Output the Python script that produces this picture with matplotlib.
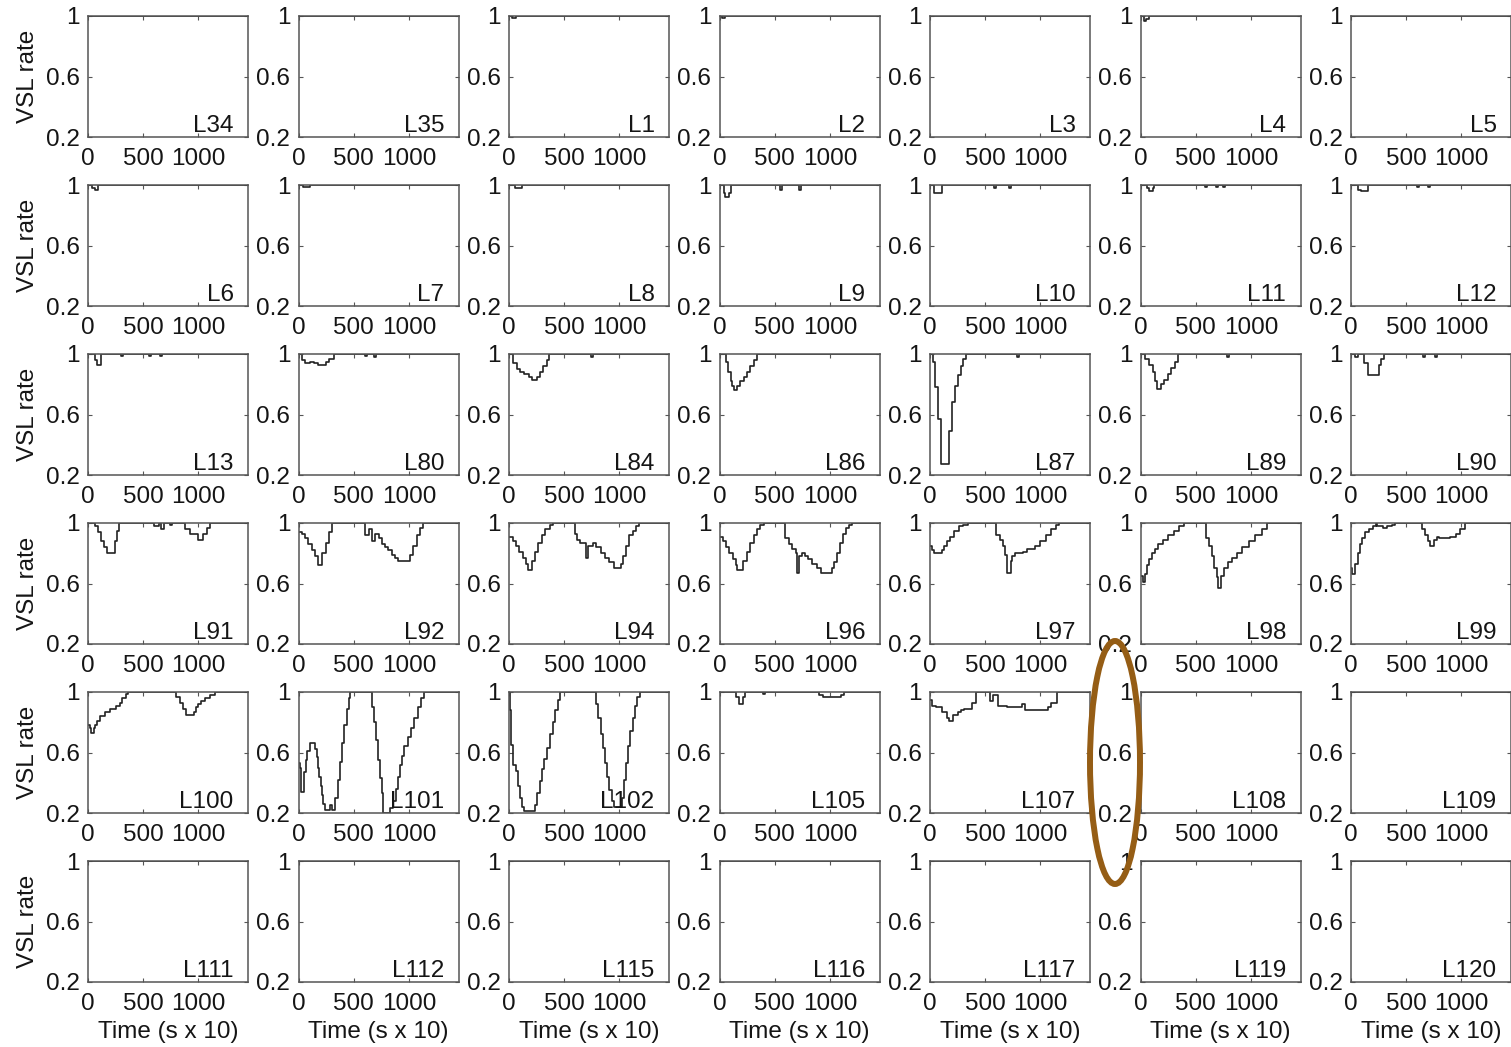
import matplotlib
matplotlib.use("Agg")
import matplotlib.pyplot as plt
from matplotlib.patches import Ellipse

plt.rcParams['font.family'] = ['Liberation Sans', 'DejaVu Sans']

# panel labels, row by row
row1 = ["L34", "L35", "L1", "L2", "L3", "L4", "L5"]
row2 = ["L6", "L7", "L8", "L9", "L10", "L11", "L12"]
row3 = ["L13", "L80", "L84", "L86", "L87", "L89", "L90"]
row4 = ["L91", "L92", "L94", "L96", "L97", "L98", "L99"]
row5 = ["L100", "L101", "L102", "L105", "L107", "L108", "L109"]
row6 = ["L111", "L112", "L115", "L116", "L117", "L119", "L120"]

T_END = 1440
flat_t = [0, T_END]
flat_v = [1, 1]

# VSL rate step profiles (time in s x 10, value holds until next time)
L1_t = [0, 30, 60, T_END]
L1_v = [1, 0.99, 1, 1]
L2_t = [0, 20, 50, T_END]
L2_v = [1, 0.99, 1, 1]
L4_t = [0, 30, 50, 80, T_END]
L4_v = [1, 0.97, 0.98, 1, 1]

L6_t = [0, 40, 60, 90, T_END]
L6_v = [1, 0.98, 0.97, 1, 1]
L7_t = [0, 40, 100, T_END]
L7_v = [1, 0.99, 1, 1]
L8_t = [0, 50, 120, T_END]
L8_v = [1, 0.98, 1, 1]
L9_t = [0, 40, 50, 90, 100, 550, 565, 720, 735, T_END]
L9_v = [1, 0.95, 0.92, 0.95, 1, 0.97, 1, 0.97, 1, 1]
L10_t = [0, 40, 110, 580, 595, 715, 730, T_END]
L10_v = [1, 0.945, 1, 0.98, 1, 0.98, 1, 1]
L11_t = [0, 60, 80, 110, 125, 580, 600, 680, 700, 750, 765, T_END]
L11_v = [1, 0.98, 0.96, 0.98, 1, 0.99, 1, 0.99, 1, 0.99, 1, 1]
L12_t = [0, 60, 90, 150, 600, 620, 700, 715, T_END]
L12_v = [1, 0.97, 0.96, 1, 0.99, 1, 0.99, 1, 1]

L13_t = [0, 60, 80, 120, 300, 320, 550, 570, 650, 670, T_END]
L13_v = [1, 0.96, 0.93, 1, 0.99, 1, 0.99, 1, 0.99, 1, 1]
L80_t = [0, 30, 60, 100, 140, 180, 250, 280, 320, 600, 620, 680, 700, T_END]
L80_v = [1, 0.96, 0.94, 0.95, 0.94, 0.93, 0.95, 0.97, 1, 0.99, 1, 0.98, 1, 1]
L84_t = [0, 40, 70, 100, 140, 180, 210, 250, 280, 310, 340, 360, 740, 760, T_END]
L84_v = [1, 0.94, 0.90, 0.88, 0.87, 0.85, 0.83, 0.85, 0.88, 0.92, 0.96, 1, 0.98, 1, 1]
L86_t = [0, 55, 80, 100, 115, 130, 160, 190, 220, 250, 280, 310, 340, T_END]
L86_v = [1, 0.95, 0.88, 0.82, 0.79, 0.76, 0.79, 0.82, 0.85, 0.88, 0.92, 0.96, 1, 1]
L87_t = [0, 25, 45, 75, 100, 175, 200, 230, 255, 280, 300, 325, 790, 810, T_END]
L87_v = [1, 0.95, 0.78, 0.57, 0.27, 0.49, 0.68, 0.79, 0.86, 0.92, 0.97, 1, 0.98, 1, 1]
L89_t = [0, 40, 80, 110, 130, 150, 185, 210, 245, 280, 310, 340, 780, 800, T_END]
L89_v = [1, 0.97, 0.93, 0.88, 0.82, 0.77, 0.80, 0.83, 0.87, 0.91, 0.95, 1, 0.98, 1, 1]
L90_t = [0, 40, 60, 120, 150, 255, 275, 300, 650, 670, 760, 780, T_END]
L90_v = [1, 0.98, 1, 0.94, 0.86, 0.93, 0.97, 1, 0.98, 1, 0.98, 1, 1]

L91_t = [0, 60, 90, 120, 145, 170, 245, 265, 285, 600, 640, 660, 690, 740, 760,
         880, 925, 1000, 1045, 1075, 1105, T_END]
L91_v = [1, 0.98, 0.94, 0.88, 0.84, 0.80, 0.88, 0.95, 1, 0.98, 1, 0.96, 1, 0.99, 1,
         0.96, 0.93, 0.89, 0.93, 0.97, 1, 1]
L92_t = [0, 30, 60, 90, 120, 150, 180, 215, 245, 275, 305, 605, 635, 665, 695, 725,
         755, 785, 815, 845, 875, 905, 1010, 1040, 1070, 1100, 1125, T_END]
L92_v = [0.94, 0.93, 0.90, 0.86, 0.82, 0.78, 0.72, 0.80, 0.87, 0.94, 1, 0.92, 0.96,
         0.88, 0.93, 0.90, 0.86, 0.84, 0.82, 0.79, 0.77, 0.75, 0.79, 0.85, 0.92, 0.97, 1, 1]
L94_t = [0, 35, 65, 95, 125, 155, 170, 205, 235, 265, 295, 330, 370, 400, 595, 620,
         640, 695, 717, 760, 790, 830, 870, 910, 950, 1015, 1035, 1060, 1090, 1120,
         1150, 1180, T_END]
L94_v = [0.91, 0.88, 0.85, 0.81, 0.77, 0.73, 0.69, 0.75, 0.81, 0.87, 0.92, 0.96, 0.99,
         1, 0.93, 0.89, 0.87, 0.77, 0.85, 0.87, 0.84, 0.80, 0.77, 0.74, 0.70, 0.73,
         0.78, 0.85, 0.92, 0.95, 0.98, 1, 1]
L96_t = [0, 30, 60, 90, 120, 150, 160, 215, 250, 280, 310, 340, 370, 400, 595, 630,
         660, 690, 700, 722, 745, 775, 800, 840, 880, 920, 1020, 1040, 1065, 1090,
         1120, 1150, 1175, 1200, T_END]
L96_v = [0.91, 0.88, 0.84, 0.80, 0.76, 0.72, 0.69, 0.75, 0.81, 0.87, 0.92, 0.96, 0.99,
         1, 0.90, 0.86, 0.83, 0.80, 0.67, 0.78, 0.80, 0.78, 0.76, 0.73, 0.70, 0.67,
         0.70, 0.74, 0.80, 0.87, 0.93, 0.97, 0.99, 1, 1]
L97_t = [0, 15, 40, 105, 125, 150, 185, 220, 260, 300, 345, 600, 630, 660, 680, 697,
         730, 740, 770, 845, 880, 950, 1000, 1050, 1100, 1140, 1165, T_END]
L97_v = [0.85, 0.82, 0.80, 0.82, 0.85, 0.88, 0.91, 0.95, 0.98, 0.99, 1, 0.92, 0.89,
         0.85, 0.79, 0.67, 0.75, 0.78, 0.80, 0.81, 0.83, 0.85, 0.88, 0.92, 0.96, 0.99, 1, 1]
L98_t = [0, 20, 45, 55, 75, 100, 130, 160, 200, 250, 300, 350, 390, 595, 620, 650,
         670, 690, 700, 727, 760, 790, 830, 870, 920, 980, 1040, 1100, 1145, T_END]
L98_v = [0.65, 0.61, 0.66, 0.72, 0.76, 0.80, 0.83, 0.86, 0.89, 0.92, 0.95, 0.98, 1,
         0.90, 0.85, 0.78, 0.70, 0.64, 0.57, 0.65, 0.70, 0.74, 0.77, 0.80, 0.84, 0.88,
         0.92, 0.96, 1, 1]
L99_t = [0, 10, 40, 60, 80, 100, 130, 160, 200, 230, 240, 290, 330, 370, 400, 640,
         670, 700, 720, 755, 775, 800, 900, 950, 990, 1030, T_END]
L99_v = [0.70, 0.66, 0.73, 0.80, 0.86, 0.90, 0.94, 0.96, 0.98, 1.0, 0.98, 0.97, 0.98,
         0.99, 1, 0.96, 0.92, 0.88, 0.85, 0.89, 0.91, 0.90, 0.91, 0.93, 0.96, 1, 1]

L100_t = [0, 15, 30, 57, 65, 80, 110, 150, 200, 250, 290, 310, 340, 365, 800, 830,
          860, 890, 960, 975, 995, 1020, 1060, 1110, 1150, T_END]
L100_v = [0.78, 0.76, 0.73, 0.76, 0.78, 0.81, 0.84, 0.87, 0.89, 0.91, 0.93, 0.96,
          0.99, 1, 0.97, 0.93, 0.89, 0.85, 0.87, 0.90, 0.92, 0.94, 0.96, 0.98, 1, 1]
L101_t = [0, 10, 25, 50, 65, 80, 100, 150, 165, 180, 190, 200, 212, 225, 240, 285,
          305, 335, 355, 375, 395, 415, 435, 455, 470, 665, 680, 700, 720, 740, 755,
          770, 830, 860, 880, 900, 920, 940, 960, 990, 1020, 1050, 1080, 1110, 1140, T_END]
L101_v = [0.53, 0.50, 0.34, 0.47, 0.55, 0.61, 0.66, 0.62, 0.57, 0.50, 0.44, 0.38,
          0.32, 0.26, 0.22, 0.25, 0.22, 0.30, 0.42, 0.54, 0.66, 0.78, 0.89, 0.96, 1.0,
          0.90, 0.80, 0.68, 0.55, 0.43, 0.33, 0.20, 0.23, 0.28, 0.36, 0.44, 0.52, 0.58,
          0.64, 0.70, 0.76, 0.83, 0.90, 0.96, 1.0, 1.0]
L102_t = [0, 5, 20, 40, 60, 80, 100, 120, 140, 233, 255, 280, 300, 320, 345, 370, 395,
          420, 440, 460, 790, 810, 830, 850, 870, 890, 910, 930, 950, 1020, 1040, 1060,
          1080, 1100, 1120, 1140, 1160, 1185, T_END]
L102_v = [1.0, 0.88, 0.65, 0.52, 0.48, 0.38, 0.30, 0.24, 0.21, 0.25, 0.33, 0.41, 0.49,
          0.56, 0.63, 0.72, 0.80, 0.88, 0.95, 1.0, 0.92, 0.83, 0.72, 0.63, 0.53, 0.44,
          0.35, 0.28, 0.24, 0.30, 0.42, 0.53, 0.64, 0.74, 0.83, 0.91, 0.97, 1.0, 1.0]
L105_t = [0, 150, 180, 210, 235, 395, 410, 900, 940, 1100, 1125, T_END]
L105_v = [1, 0.97, 0.92, 0.97, 1, 0.99, 1, 0.98, 0.97, 0.98, 1, 1]
L107_t = [0, 20, 50, 110, 150, 170, 205, 250, 280, 310, 385, 415, 540, 575, 620, 700,
          830, 865, 1065, 1100, 1150, T_END]
L107_v = [0.95, 0.91, 0.90, 0.87, 0.83, 0.81, 0.85, 0.87, 0.88, 0.89, 0.93, 1.0, 0.94,
          0.98, 0.91, 0.90, 0.92, 0.88, 0.90, 0.93, 1.0, 1.0]

traces = {
    "L1": (L1_t, L1_v), "L2": (L2_t, L2_v), "L4": (L4_t, L4_v),
    "L6": (L6_t, L6_v), "L7": (L7_t, L7_v), "L8": (L8_t, L8_v),
    "L9": (L9_t, L9_v), "L10": (L10_t, L10_v), "L11": (L11_t, L11_v),
    "L12": (L12_t, L12_v), "L13": (L13_t, L13_v), "L80": (L80_t, L80_v),
    "L84": (L84_t, L84_v), "L86": (L86_t, L86_v), "L87": (L87_t, L87_v),
    "L89": (L89_t, L89_v), "L90": (L90_t, L90_v), "L91": (L91_t, L91_v),
    "L92": (L92_t, L92_v), "L94": (L94_t, L94_v), "L96": (L96_t, L96_v),
    "L97": (L97_t, L97_v), "L98": (L98_t, L98_v), "L99": (L99_t, L99_v),
    "L100": (L100_t, L100_v), "L101": (L101_t, L101_v), "L102": (L102_t, L102_v),
    "L105": (L105_t, L105_v), "L107": (L107_t, L107_v),
}

rows = [row1, row2, row3, row4, row5, row6]

W, H = 1511, 1047
fig = plt.figure(figsize=(W / 100, H / 100), dpi=100)

FS = 17.5
frame_col = "#555555"
line_col = "#222222"
text_col = "#151515"

for i, row in enumerate(rows):
    for j, name in enumerate(row):
        left_px = 88 + 210.5 * j
        top_px = 16 + 169 * i
        ax = fig.add_axes([left_px / W, 1 - (top_px + 121) / H, 160 / W, 121 / H])
        t, v = traces.get(name, (flat_t, flat_v))
        ax.plot(t, v, drawstyle="steps-post", color=line_col, lw=1.2)
        ax.set_xlim(0, 1450)
        ax.set_ylim(0.2, 1.0)
        ax.set_xticks([0, 500, 1000])
        ax.set_yticks([0.2, 0.6, 1.0])
        ax.set_yticklabels(["0.2", "0.6", "1"])
        ax.tick_params(direction="in", top=True, right=True, length=3, width=0.8,
                       color=frame_col, labelsize=FS, labelcolor=text_col)
        ax.tick_params(axis="x", pad=8)
        ax.tick_params(axis="y", pad=6)
        for sp in ax.spines.values():
            sp.set_color(frame_col)
            sp.set_linewidth(1.1)
        ax.text(0.91, 0.045, name, transform=ax.transAxes, ha="right", va="baseline",
                fontsize=FS, color=text_col)
        if j == 0:
            ax.set_ylabel("VSL rate", fontsize=FS, color=text_col, labelpad=5)
        if i == len(rows) - 1:
            ax.set_xlabel("Time (s x 10)", fontsize=FS, color=text_col, labelpad=4)

# highlight ring around the y-axis labels of L108
ring = Ellipse((1115 / W, 1 - 762.5 / H), 50 / W, 243 / H, transform=fig.transFigure,
               fill=False, edgecolor="#955d15", lw=4.3)
fig.add_artist(ring)

fig.savefig("out.png", dpi=100, facecolor="white")
